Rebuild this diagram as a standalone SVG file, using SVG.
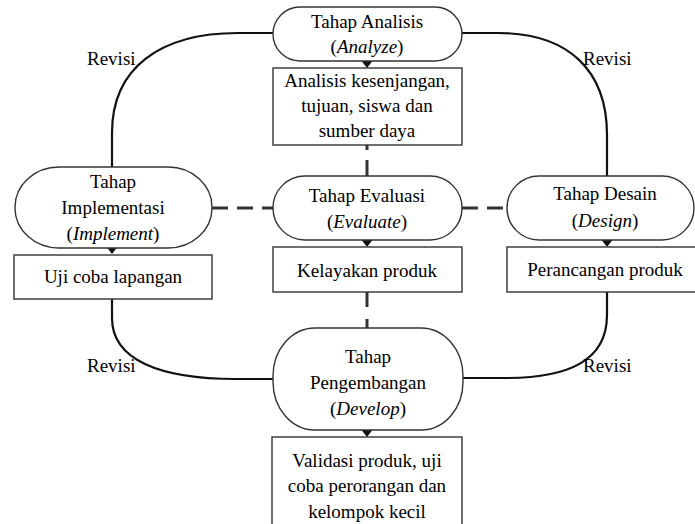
<svg xmlns="http://www.w3.org/2000/svg" width="695" height="524" viewBox="0 0 695 524">
<defs>
<style>
.pill{fill:#fff;stroke:#333;stroke-width:1.4}
.box{fill:#fff;stroke:#333;stroke-width:1.4}
.t{font-family:"Liberation Serif","Times New Roman",serif;font-size:19px;fill:#000;text-anchor:middle}
.lbl{font-family:"Liberation Serif","Times New Roman",serif;font-size:19px;fill:#000}
.solid{fill:none;stroke:#111;stroke-width:2.2}
.dash{fill:none;stroke:#333;stroke-width:3;stroke-dasharray:16 9}
.arr{fill:#111}
</style>
</defs>
<rect width="695" height="524" fill="#fff"/>
<g id="connectors">
<path class="solid" d="M273,33 H238 C160,33 112,68 112,133 V167"/>
<path class="solid" d="M462,33 H498 C568,33 607,70 607,135 V176"/>
<path class="solid" d="M112,299 V318 C112,360 160,379 236,379 H273"/>
<path class="solid" d="M607,292 V315 C607,360 570,378 505,378 H462"/>
<path class="dash" d="M212,208 H273"/>
<path class="dash" d="M462,208 H507"/>
<path class="dash" d="M367,145 V176" style="stroke-dasharray:5 10 16 0"/>
<path class="dash" d="M367,292 V328" style="stroke-dasharray:15 12 16 0"/>
<polygon class="arr" points="361.5,61 372.5,61 367,68"/>
<polygon class="arr" points="106.5,247 117.5,247 112,254"/>
<polygon class="arr" points="361.5,240 372.5,240 367,247"/>
<polygon class="arr" points="601.5,240 612.5,240 607,247"/>
<polygon class="arr" points="361.5,430 372.5,430 367,437"/>
</g>
<g id="analisis">
<rect class="pill" x="273" y="7" width="189" height="54" rx="27" ry="27"/>
<text class="t" x="367" y="28">Tahap Analisis</text>
<text class="t" x="367" y="53">(<tspan font-style="italic">Analyze</tspan>)</text>
</g>
<g id="analisis-box">
<rect class="box" x="273" y="68" width="189" height="77"/>
<text class="t" x="367" y="87">Analisis kesenjangan,</text>
<text class="t" x="367" y="112">tujuan, siswa dan</text>
<text class="t" x="367" y="137">sumber daya</text>
</g>
<g id="implementasi">
<rect class="pill" x="15" y="167" width="197" height="81" rx="44" ry="40"/>
<text class="t" x="113" y="188">Tahap</text>
<text class="t" x="113" y="214">Implementasi</text>
<text class="t" x="113" y="240">(<tspan font-style="italic">Implement</tspan>)</text>
</g>
<g id="implementasi-box">
<rect class="box" x="14" y="255" width="198" height="44"/>
<text class="t" x="113" y="283">Uji coba lapangan</text>
</g>
<g id="evaluasi">
<rect class="pill" x="273" y="176" width="189" height="64" rx="32" ry="32"/>
<text class="t" x="367" y="202">Tahap Evaluasi</text>
<text class="t" x="367" y="228">(<tspan font-style="italic">Evaluate</tspan>)</text>
</g>
<g id="evaluasi-box">
<rect class="box" x="273" y="247" width="189" height="45"/>
<text class="t" x="367" y="277">Kelayakan produk</text>
</g>
<g id="desain">
<rect class="pill" x="507" y="176" width="187" height="64" rx="32" ry="32"/>
<text class="t" x="605" y="200">Tahap Desain</text>
<text class="t" x="605" y="227">(<tspan font-style="italic">Design</tspan>)</text>
</g>
<g id="desain-box">
<rect class="box" x="507" y="247" width="192" height="45"/>
<text class="t" x="605" y="276">Perancangan produk</text>
</g>
<g id="pengembangan">
<rect class="pill" x="273" y="328" width="190" height="102" rx="42" ry="48"/>
<text class="t" x="368" y="363">Tahap</text>
<text class="t" x="368" y="389">Pengembangan</text>
<text class="t" x="368" y="415">(<tspan font-style="italic">Develop</tspan>)</text>
</g>
<g id="pengembangan-box">
<rect class="box" x="272" y="437" width="190" height="92"/>
<text class="t" x="367" y="467">Validasi produk, uji</text>
<text class="t" x="367" y="492">coba perorangan dan</text>
<text class="t" x="367" y="518">kelompok kecil</text>
</g>
<g id="labels">
<text class="lbl" x="87" y="65">Revisi</text>
<text class="lbl" x="583" y="65">Revisi</text>
<text class="lbl" x="87" y="372">Revisi</text>
<text class="lbl" x="583" y="372">Revisi</text>
</g>
</svg>
